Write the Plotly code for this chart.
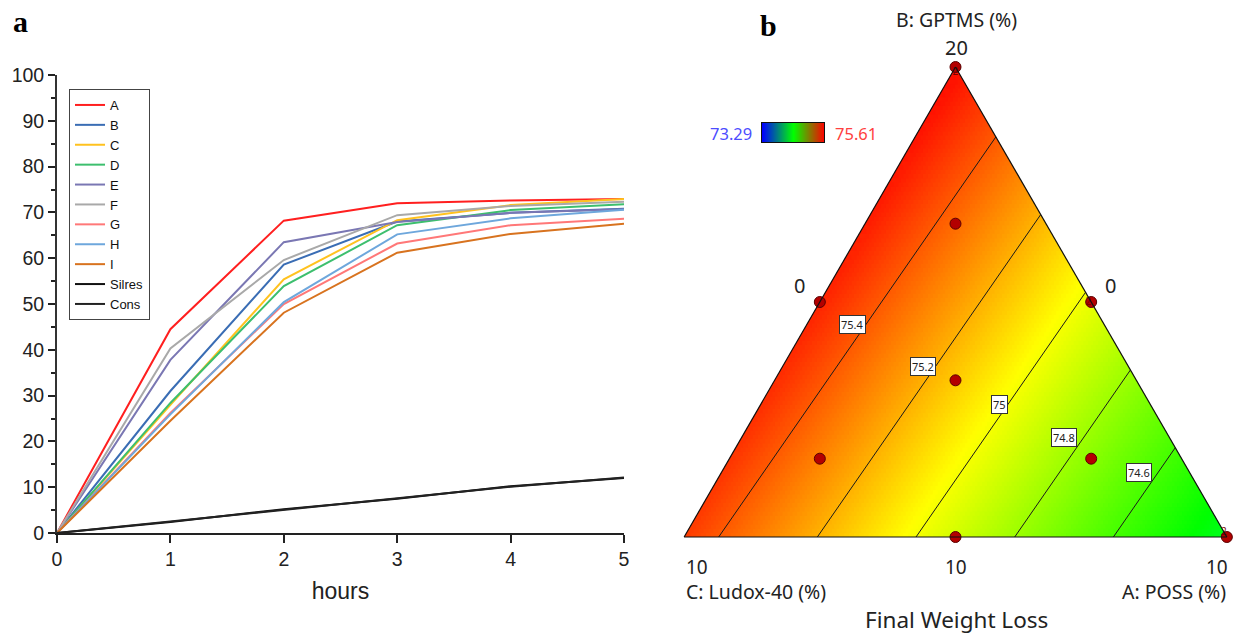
import numpy as np
import plotly.graph_objects as go

# ---------------- Panel a data ----------------
hours = [0, 1, 2, 3, 4, 5]
series_names = ["A", "B", "C", "D", "E", "F", "G", "H", "I", "Silres", "Cons"]
A = [0, 44.5, 68.2, 72.0, 72.6, 72.9]
B = [0, 31.0, 58.6, 68.0, 69.9, 70.8]
C = [0, 28.0, 55.4, 68.3, 71.6, 72.9]
D = [0, 28.4, 53.9, 67.2, 70.5, 71.8]
E = [0, 37.8, 63.5, 67.9, 69.9, 70.7]
F = [0, 40.3, 59.6, 69.4, 71.4, 72.3]
G = [0, 26.2, 50.0, 63.2, 67.2, 68.6]
H = [0, 25.9, 50.4, 65.2, 68.7, 70.6]
I = [0, 24.5, 48.1, 61.2, 65.3, 67.5]
Silres = [0, 2.4, 5.2, 7.5, 10.2, 12.0]
Cons = [0, 2.5, 5.1, 7.6, 10.1, 12.1]
series_values = [A, B, C, D, E, F, G, H, I, Silres, Cons]
series_colors = ["#ff1f1f", "#3a6db4", "#ffc21f", "#3dbf6e", "#7a77b3", "#a9a9a9",
                 "#ff7878", "#6ea7dc", "#d8731f", "#111111", "#222222"]

# ---------------- Panel b data ----------------
# ternary: B GPTMS (top, 10..20), C Ludox-40 (bottom-left, 0..10), A POSS (bottom-right, 0..10)
pt_B = [20, 15, 15, 10, 10, 13.333, 16.667, 11.667, 11.667]
pt_C = [0, 5, 0, 5, 0, 3.333, 1.667, 6.667, 1.667]
pt_A = [0, 0, 5, 5, 10, 3.333, 1.667, 1.667, 6.667]
replicate_idx = [0, 2, 4]
replicate_text = ["2", "2", "2"]
replicate_pos = ["bottom center", "middle left", "top left"]
# fitted linear mixture model: response at the three vertices (B, C, A)
vertex_values = [75.58, 75.47, 74.37]
contour_levels = [75.4, 75.2, 75.0, 74.8, 74.6]
contour_labels = ["75.4", "75.2", "75", "74.8", "74.6"]
label_t = [0.53, 0.53, 0.54, 0.54, 0.62]
resp_min, resp_max = 73.29, 75.61

W, Hh = 1233, 636
def px(x):
    return x / W
def py(y):
    return 1 - y / Hh

tern_dom_x = [684 / W, 1227 / W]
tern_dom_y = [99 / Hh, 569 / Hh]

fig = go.Figure()

for name, vals, col in zip(series_names, series_values, series_colors):
    fig.add_trace(go.Scatter(x=hours, y=vals, mode="lines", name=name,
                             line=dict(color=col, width=2), xaxis="x", yaxis="y"))

# ---- ternary fill (dense grid of squares clipped to triangle) ----
N = 110
fb, fc, fa, fv = [], [], [], []
VB, VC, VA = vertex_values
for i in range(N + 1):
    for j in range(N + 1 - i):
        b = i / N
        c = j / N
        a = 1 - b - c
        fb.append(10 + 10 * b)
        fc.append(10 * c)
        fa.append(10 * a)
        fv.append(VB * b + VC * c + VA * a)

fill_scale = [[0, "rgb(0,0,255)"], [0.25, "rgb(0,255,255)"], [0.5, "rgb(0,255,0)"],
              [0.75, "rgb(255,255,0)"], [1, "rgb(255,0,0)"]]
fig.add_trace(go.Scatterternary(a=fb, b=fc, c=fa, mode="markers",
                                marker=dict(symbol="square", size=9, color=fv,
                                            colorscale=fill_scale, cmin=resp_min, cmax=resp_max,
                                            line=dict(width=0)),
                                showlegend=False, hoverinfo="skip", subplot="ternary"))

# ---- contour lines ----
def edge_point(level, v1, v2):
    return (level - v1) / (v2 - v1)

ann = []
for lev, lab, t in zip(contour_levels, contour_labels, label_t):
    s = edge_point(lev, VC, VA)      # bottom edge C -> A
    p1 = (0.0, 1 - s, s)             # (b, c, a) pseudo
    r = edge_point(lev, VB, VA)      # right edge B -> A
    p2 = (1 - r, 0.0, r)
    fig.add_trace(go.Scatterternary(
        a=[10 + 10 * p1[0], 10 + 10 * p2[0]], b=[10 * p1[1], 10 * p2[1]], c=[10 * p1[2], 10 * p2[2]],
        mode="lines", line=dict(color="#1a1a1a", width=1), showlegend=False, hoverinfo="skip",
        subplot="ternary"))
    bl = p1[0] + t * (p2[0] - p1[0])
    al = p1[2] + t * (p2[2] - p1[2])
    X = al + 0.5 * bl
    Y = bl
    ann.append(dict(x=tern_dom_x[0] + X * (tern_dom_x[1] - tern_dom_x[0]),
                    y=tern_dom_y[0] + Y * (tern_dom_y[1] - tern_dom_y[0]),
                    xref="paper", yref="paper", text=lab, showarrow=False,
                    font=dict(family="Noto Sans", size=11, color="#222"),
                    bgcolor="white", bordercolor="#333", borderwidth=1, borderpad=1))

# ---- design points ----
fig.add_trace(go.Scatterternary(a=pt_B, b=pt_C, c=pt_A, mode="markers",
                                marker=dict(size=11, color="#b30000", line=dict(color="#5a0000", width=1)),
                                cliponaxis=False, showlegend=False, hoverinfo="skip", subplot="ternary"))
fig.add_trace(go.Scatterternary(a=[pt_B[k] for k in replicate_idx], b=[pt_C[k] for k in replicate_idx],
                                c=[pt_A[k] for k in replicate_idx], mode="text", text=replicate_text,
                                textposition=replicate_pos,
                                textfont=dict(family="Noto Sans", size=10, color="#7a0000"),
                                cliponaxis=False, showlegend=False, hoverinfo="skip", subplot="ternary"))

# ---- colour bar ----
bar_scale = [[0, "rgb(0,0,255)"], [0.5, "rgb(0,255,0)"], [1, "rgb(255,0,0)"]]
fig.add_trace(go.Heatmap(z=[[resp_min, resp_max]], x=[0, 1], y=[0], colorscale=bar_scale,
                         zmin=resp_min, zmax=resp_max, zsmooth="best", showscale=False,
                         hoverinfo="skip", xaxis="x3", yaxis="y3"))

tern_axis = dict(showticklabels=False, ticks="", showgrid=False, showline=True,
                 linecolor="#111", linewidth=1.2, title=dict(text=""))

texts = [
    ("B: GPTMS (%)", 956, 19, 19.5, "center", "#222"),
    ("20", 956, 48, 20, "center", "#222"),
    ("0", 800, 285, 20, "center", "#222"),
    ("0", 1110, 285, 20, "center", "#222"),
    ("10", 697, 567, 19, "center", "#222"),
    ("10", 956, 567, 19, "center", "#222"),
    ("10", 1217, 567, 19, "center", "#222"),
    ("C: Ludox-40 (%)", 684, 591, 19.5, "left", "#222"),
    ("A: POSS (%)", 1228, 591, 19.5, "right", "#222"),
    ("Final Weight Loss", 956, 619, 22.5, "center", "#222"),
    ("73.29", 731, 133, 16.5, "center", "#4d4dff"),
    ("75.61", 856, 133, 16.5, "center", "#ff4040"),
]
for txt, x, y, s, xa, col in texts:
    ann.append(dict(x=px(x), y=py(y), xref="paper", yref="paper", text=txt, showarrow=False,
                    xanchor=xa, yanchor="middle", font=dict(family="Noto Sans", size=s, color=col)))
ann.append(dict(x=px(20), y=py(21), xref="paper", yref="paper", text="<b>a</b>", showarrow=False,
                xanchor="center", yanchor="middle",
                font=dict(family="Liberation Serif", size=30, color="black")))
ann.append(dict(x=px(768), y=py(26), xref="paper", yref="paper", text="<b>b</b>", showarrow=False,
                xanchor="center", yanchor="middle",
                font=dict(family="Liberation Serif", size=30, color="black")))

axfont = dict(family="Liberation Sans", size=19.5, color="#222")
fig.update_layout(
    template="none",
    width=W, height=Hh, margin=dict(l=0, r=0, t=0, b=0, autoexpand=False),
    paper_bgcolor="white", plot_bgcolor="white",
    xaxis=dict(domain=[57 / W, 624 / W], range=[0, 5], anchor="y", tickvals=hours,
               ticks="outside", ticklen=8, tickwidth=1.5, tickcolor="#222", automargin=False,
               showline=True, linecolor="#222", linewidth=1.8, showgrid=False, zeroline=False,
               tickfont=axfont,
               title=dict(text="hours", font=dict(family="Liberation Sans", size=23, color="#222"), standoff=14)),
    yaxis=dict(domain=[103 / Hh, 561 / Hh], range=[0, 100], anchor="x", dtick=10, automargin=False,
               ticks="outside", ticklen=7, tickwidth=1.5, tickcolor="#222",
               minor=dict(ticks="outside", ticklen=4, dtick=5, tickcolor="#222", tickwidth=1.5),
               showline=True, linecolor="#333", linewidth=1.8, showgrid=False, zeroline=False,
               tickfont=axfont),
    xaxis3=dict(domain=[762 / W, 824 / W], range=[0, 1], anchor="y3", showticklabels=False, ticks="",
                automargin=False, showgrid=False, zeroline=False, showline=True, mirror=True,
                linecolor="#111", linewidth=1),
    yaxis3=dict(domain=[494 / Hh, 513 / Hh], range=[-0.5, 0.5], anchor="x3", showticklabels=False, ticks="",
                automargin=False, showgrid=False, zeroline=False, showline=True, mirror=True,
                linecolor="#111", linewidth=1),
    ternary=dict(domain=dict(x=tern_dom_x, y=tern_dom_y), sum=20, bgcolor="white",
                 aaxis=dict(min=10, **tern_axis), baxis=dict(min=0, **tern_axis), caxis=dict(min=0, **tern_axis)),
    legend=dict(x=69 / W, y=py(89), xanchor="left", yanchor="top", bgcolor="white",
                bordercolor="#444", borderwidth=1, tracegroupgap=0,
                font=dict(family="Liberation Sans", size=13, color="#111")),
    annotations=ann,
    showlegend=True,
)

fig.write_html("out.html", config={"displayModeBar": False},
               post_script="document.body.style.margin='0px';document.body.style.overflow='hidden';")
